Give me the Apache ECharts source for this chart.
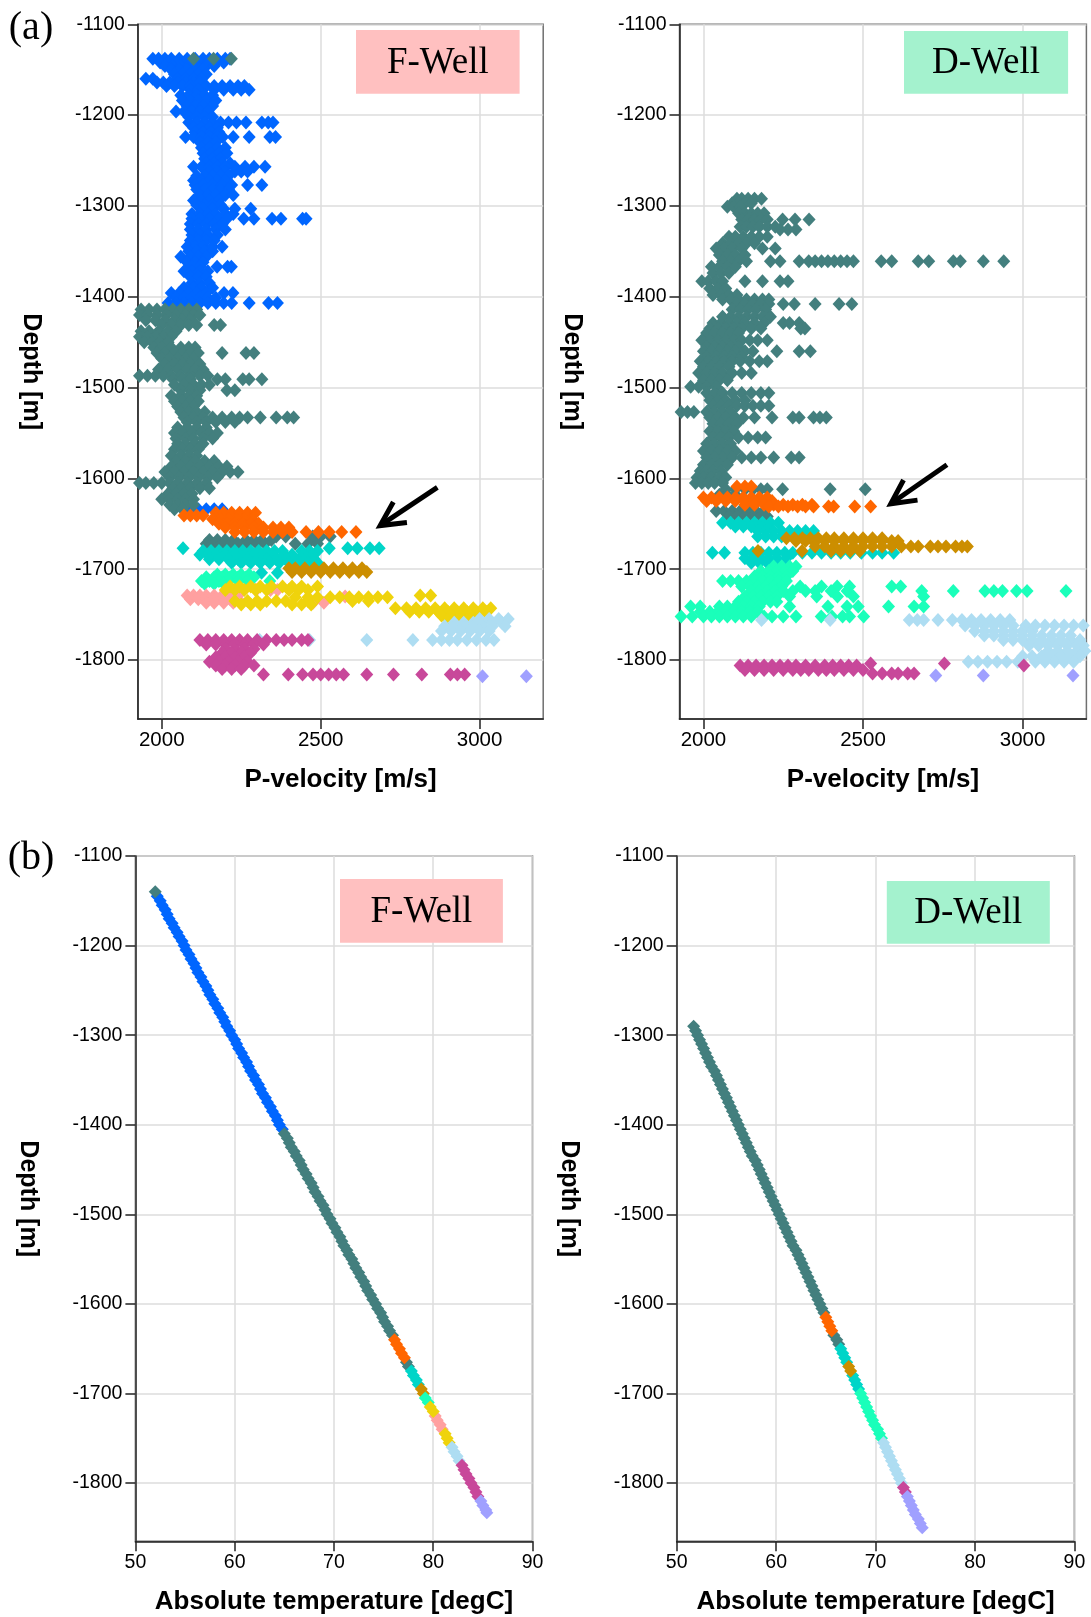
<!DOCTYPE html>
<html><head><meta charset="utf-8">
<script src="https://cdn.jsdelivr.net/npm/echarts@6/dist/echarts.min.js"></script>
<style>html,body{margin:0;padding:0;background:#fff}#c{width:1091px;height:1617px}</style>
</head><body><div id="c"></div>
<script>
// ---------- tick labels ----------
const depthTicks = [-1800, -1700, -1600, -1500, -1400, -1300, -1200, -1100];
const velTicks = [2000, 2500, 3000];
const tempTicks = [50, 60, 70, 80, 90];

// ---------- zone colours ----------
const zoneKeys = ['blue','teal','orange','cyan','gold','green','salmon','yellow','lightblue','magenta','lavender'];
const zoneColors = ['#0066FF','#437F7E','#FF6600','#00D5C8','#CC8E00','#1AFFBA','#FFA0A0','#EFD30C','#AEDDF2','#C8489A','#A0A0FF'];

// ---------- (a) F-Well: rows of [depth, [P-velocities]] ----------
const fVelBlue = [
 [-1138,[1972,1990,2010,2030,2055,2080,2105,2130,2150,2175,2200,2215]],
 [-1142,[1995,2020,2045,2070,2095,2120,2145,2170,2195]],
 [-1146,[2010,2035,2060,2085,2110,2140,2165]],
 [-1150,[2030,2055,2080,2105,2130]],
 [-1155,[2040,2065,2090,2115,2140]],
 [-1160,[1950,1972,2050,2075,2100,2125]],
 [-1164,[1985,2005,2025,2050,2075,2100,2120]],
 [-1168,[2015,2040,2065,2090,2140,2165,2190,2215,2240,2260]],
 [-1172,[2090,2115,2165,2195,2225,2250,2275]],
 [-1178,[2060,2085,2110,2135,2160]],
 [-1184,[2065,2090,2115,2140,2170]],
 [-1190,[2080,2105,2130,2160]],
 [-1196,[2045,2070,2095,2120,2145]],
 [-1202,[2085,2110,2135,2160]],
 [-1208,[2085,2110,2135,2160,2185,2210,2235,2265,2315,2335,2350]],
 [-1214,[2100,2125,2150,2175]],
 [-1219,[2105,2130,2155,2180]],
 [-1224,[2075,2100,2125,2150,2175,2192,2225,2275,2340,2358]],
 [-1230,[2120,2145,2170]],
 [-1236,[2125,2150,2175,2200]],
 [-1242,[2130,2155,2180,2205]],
 [-1248,[2135,2160,2185]],
 [-1253,[2140,2165,2190,2215]],
 [-1257,[2100,2125,2150,2175,2200,2230,2262,2290,2325]],
 [-1262,[2150,2175,2200,2230,2250,2270]],
 [-1267,[2110,2135,2160,2185,2210]],
 [-1272,[2100,2125,2150,2175,2200]],
 [-1277,[2105,2130,2160,2190,2220,2270,2315]],
 [-1282,[2110,2135,2160,2185,2210]],
 [-1288,[2120,2145,2170,2200,2225]],
 [-1294,[2100,2125,2150,2180]],
 [-1299,[2110,2135,2160,2185]],
 [-1303,[2130,2160,2195,2230,2280]],
 [-1309,[2095,2120,2145,2170,2200,2225]],
 [-1314,[2095,2120,2150,2180,2205,2258,2290,2347,2375,2443,2454]],
 [-1320,[2090,2115,2140,2165,2190]],
 [-1326,[2090,2115,2140,2170,2200]],
 [-1332,[2095,2120,2145,2175]],
 [-1338,[2090,2115,2140,2165]],
 [-1345,[2080,2105,2130,2160,2190]],
 [-1350,[2085,2110,2135,2160]],
 [-1356,[2060,2090,2115,2140]],
 [-1362,[2080,2105,2130]],
 [-1367,[2095,2120,2174,2207,2219]],
 [-1372,[2070,2095,2120,2145]],
 [-1378,[2090,2115,2140]],
 [-1385,[2095,2120,2150]],
 [-1390,[2070,2100,2125,2160]],
 [-1396,[2030,2055,2085,2110,2140,2196,2224]],
 [-1401,[2045,2070,2095,2120,2145,2170]],
 [-1407,[2020,2045,2070,2095,2120,2145,2170,2195,2220,2275,2336,2364]],
 [-1634,[2090,2115,2140,2165,2190]]
];
const fVelTeal = [
 [-1138,[2100,2163,2219]],
 [-1414,[1935,1960,1985,2010,2035,2060,2085,2110]],
 [-1420,[1930,1955,1985,2015,2045,2075,2100,2120]],
 [-1426,[1950,1980,2010,2040,2065,2090]],
 [-1431,[2000,2030,2060,2085,2110,2165,2185]],
 [-1438,[1935,1960,1990,2020,2045]],
 [-1444,[1930,1955,1980,2005,2030]],
 [-1450,[1945,1970,1995,2020]],
 [-1456,[1975,2000,2030,2060,2085,2105]],
 [-1462,[1985,2010,2040,2065,2090,2115,2190,2265,2290]],
 [-1468,[2000,2025,2050,2075,2100]],
 [-1474,[2010,2040,2065,2090,2120]],
 [-1480,[1990,2020,2050,2080,2105,2130]],
 [-1487,[1930,1955,1980,2005,2030,2060,2090,2120,2145]],
 [-1491,[2035,2065,2090,2175,2200,2255,2275,2315]],
 [-1497,[2040,2070,2100,2125,2150]],
 [-1503,[2060,2090,2120,2205,2230]],
 [-1509,[2030,2060,2085,2110]],
 [-1515,[2040,2065,2090,2115]],
 [-1521,[2050,2075,2100]],
 [-1527,[2060,2085,2110,2135]],
 [-1533,[2070,2100,2130,2160,2190,2220,2245,2270,2310,2360,2395,2415]],
 [-1538,[2080,2110,2140,2170,2200,2230]],
 [-1544,[2050,2080,2110,2140]],
 [-1550,[2040,2065,2095,2125,2150,2175]],
 [-1556,[2045,2075,2100,2130,2160]],
 [-1562,[2050,2075,2105,2130]],
 [-1568,[2040,2065,2090,2115]],
 [-1575,[2030,2060,2085,2110]],
 [-1581,[2045,2075,2105,2135,2165]],
 [-1587,[2030,2060,2090,2120,2150,2180,2205]],
 [-1593,[2010,2040,2070,2100,2130,2160,2190,2215,2240]],
 [-1599,[2025,2055,2085,2115,2145,2175]],
 [-1605,[1930,1950,1975,2000,2025,2050,2080,2110,2140]],
 [-1611,[2035,2060,2090,2120,2150]],
 [-1617,[2020,2045,2070,2095]],
 [-1623,[2000,2025,2050,2075,2100]],
 [-1629,[2025,2050,2075,2100]],
 [-1634,[2040,2065]],
 [-1664,[2360,2390,2475,2500,2530]],
 [-1668,[2150,2175,2200,2225,2265,2290,2315,2345]],
 [-1672,[2140,2165,2195,2240,2270,2300,2325,2420,2460,2490]],
 [-1675,[2150,2180,2210]]
];
const fVelOrange = [
 [-1638,[2170,2195,2220,2245,2270,2295]],
 [-1641,[2070,2090,2110,2130]],
 [-1645,[2160,2185,2210,2235,2260,2285]],
 [-1650,[2180,2205,2230,2255,2280,2305]],
 [-1654,[2200,2230,2260,2290,2320,2350,2375,2400]],
 [-1659,[2230,2260,2290,2320,2350,2380,2410,2454,2493,2527,2566,2611]]
];
const fVelCyan = [
 [-1677,[2067,2527,2585,2615,2655,2684]],
 [-1680,[2130,2155,2180,2205,2230,2255,2280,2305,2330,2355,2380,2440,2465,2490]],
 [-1684,[2120,2145,2170,2200,2230,2260,2290,2320,2350,2385,2410,2445,2475]],
 [-1689,[2150,2180,2210,2240,2270,2300,2330,2360,2390,2420,2450,2480]],
 [-1693,[2220,2250,2280,2310,2340,2370,2400,2430,2460,2490]],
 [-1704,[2314,2364]]
];
const fVelGold = [
 [-1699,[2400,2420,2450,2480,2510,2540,2570,2600,2630]],
 [-1703,[2410,2440,2470,2500,2530,2560,2590,2620,2645]]
];
const fVelGreen = [
 [-1706,[2175,2200,2225,2250,2275]],
 [-1709,[2140,2165,2190,2215,2240,2265,2290]],
 [-1713,[2125,2150,2180,2210,2240,2270,2340]],
 [-1716,[2135,2165,2195]]
];
const fVelSalmon = [
 [-1723,[2297,2342,2364]],
 [-1729,[2080,2100,2120,2140,2165,2190,2215,2240]],
 [-1730,[2577]],
 [-1733,[2090,2115,2140,2165,2190,2215,2240]],
 [-1737,[2140,2165,2195,2225,2476,2510]]
];
const fVelYellow = [
 [-1719,[2215,2245,2280,2310,2345,2380,2410,2440,2490]],
 [-1723,[2200,2230,2260,2295,2330,2400,2430,2460]],
 [-1729,[2813,2846]],
 [-1731,[2420,2460,2490,2530,2560,2590,2620,2650,2680,2710]],
 [-1735,[2230,2270,2300,2330,2360,2390,2460,2600,2650]],
 [-1739,[2250,2280,2310,2410,2440,2470]],
 [-1743,[2735,2770,2800,2830,2860,2890,2920,2950,2980,3010,3035]],
 [-1747,[2780,2810,2840,2870,2900,2930,2960,2990,3020]],
 [-1751,[2880,2910,2940,2970,3000]],
 [-1756,[2900,2930,2960,2985]]
];
const fVelLightblue = [
 [-1755,[3000,3030,3060,3090]],
 [-1759,[2920,2950,2980,3010,3040,3070]],
 [-1763,[2890,2920,2950,2980,3010,3040,3080]],
 [-1768,[2880,2910,2940,2970,3000,3030]],
 [-1778,[2308,2465,2645,2790,2852,2880,2905,2930,2960,2990,3020,3045]]
];
const fVelMagenta = [
 [-1778,[2120,2145,2170,2195,2220,2245,2270,2300,2330,2360,2385,2410,2440,2460]],
 [-1783,[2140,2170,2200,2230,2260,2290,2320]],
 [-1788,[2200,2230,2260,2290]],
 [-1792,[2190,2220,2250,2280]],
 [-1797,[2170,2200,2230,2260]],
 [-1802,[2150,2180,2210,2240,2270]],
 [-1806,[2170,2200,2230,2260,2290]],
 [-1810,[2190,2220,2250]],
 [-1816,[2320,2398,2443,2476,2500,2525,2549,2572,2645,2729,2818,2908,2930,2953]]
];
const fVelLavender = [
 [-1818,[3009,3147]]
];

// ---------- (a) D-Well: rows of [depth, [P-velocities]] ----------
const dVelTeal = [
 [-1292,[2105,2120,2140,2160,2182]],
 [-1297,[2090,2110,2130,2150]],
 [-1301,[2075,2095,2115]],
 [-1308,[2110,2130,2150,2170,2190]],
 [-1315,[2120,2140,2160,2180,2200,2248,2287,2331]],
 [-1323,[2115,2135,2155,2175,2200,2225]],
 [-1326,[2240,2265,2290]],
 [-1334,[2080,2100,2125,2150,2175,2200]],
 [-1341,[2060,2085,2110,2135,2160]],
 [-1347,[2040,2065,2090,2120,2185,2225]],
 [-1354,[2050,2075,2100,2130]],
 [-1361,[2060,2085,2110,2135,2210,2240,2300,2330,2350,2370,2390,2410,2430,2450,2470,2557,2590,2673,2706,2783,2805,2877,2941]],
 [-1367,[2025,2050,2075,2100]],
 [-1374,[2030,2055,2080]],
 [-1383,[1995,2015,2040,2060,2130,2185,2240,2265]],
 [-1391,[2020,2045,2070]],
 [-1398,[2030,2055,2080,2105]],
 [-1403,[2060,2085,2110,2135,2160,2185,2205]],
 [-1408,[2105,2130,2155,2180,2205,2250,2285,2350,2425,2465]],
 [-1414,[2090,2115,2140,2165,2195]],
 [-1422,[2060,2085,2110,2135,2160,2185,2210]],
 [-1429,[2030,2055,2080,2105,2130,2160,2190,2250,2270,2300]],
 [-1435,[2020,2045,2070,2095,2120,2150,2180,2305,2318]],
 [-1440,[2010,2035,2060,2085,2110]],
 [-1448,[1995,2020,2045,2070,2095,2120,2145,2170,2200]],
 [-1455,[2010,2035,2060,2085,2110]],
 [-1460,[2000,2025,2050,2075,2100,2130,2155,2230,2300,2335]],
 [-1466,[2010,2040,2065,2090,2120]],
 [-1471,[1990,2015,2040,2065,2090,2115,2145,2175,2200]],
 [-1477,[2000,2025,2050,2080]],
 [-1484,[1985,2010,2035,2060,2090,2120,2150]],
 [-1492,[2000,2025,2050,2075]],
 [-1499,[1960,1985,2010,2040]],
 [-1506,[2010,2035,2060,2090,2120,2150,2180,2205]],
 [-1514,[2020,2045,2070,2100,2130]],
 [-1520,[2030,2055,2080,2105,2130,2155,2180,2205]],
 [-1527,[1930,1950,1970,2010,2035,2060,2085]],
 [-1533,[2020,2045,2070,2100,2125,2160,2215,2280,2300,2345,2365,2385]],
 [-1540,[2030,2055,2080,2105]],
 [-1548,[2020,2045,2070,2095]],
 [-1555,[2030,2055,2080,2110,2140,2170,2195]],
 [-1562,[2010,2035,2060,2085]],
 [-1570,[2000,2025,2050,2075,2100]],
 [-1577,[2010,2035,2060,2090,2120,2150,2180,2220,2275,2300]],
 [-1585,[2000,2025,2050,2075]],
 [-1592,[1990,2010,2030,2055]],
 [-1599,[1980,2000,2025,2050,2070]],
 [-1605,[1975,1995,2015,2035,2060]],
 [-1612,[2070,2100,2130,2155,2180,2200,2248,2397,2507]],
 [-1618,[2050,2075,2100]],
 [-1636,[2040,2065,2090,2115,2140,2165,2190]],
 [-1642,[2080,2105,2130,2155,2180,2200]]
];
const dVelOrange = [
 [-1609,[2105,2130,2150]],
 [-1621,[2000,2025,2050,2075,2100,2125,2150,2175,2200]],
 [-1625,[2010,2040,2070,2100,2130,2160,2190,2215]],
 [-1629,[2130,2160,2190,2220,2250,2280,2310,2340]],
 [-1631,[2205,2235,2265,2295,2320,2345,2392,2408,2474,2524]]
];
const dVelCyan = [
 [-1649,[2060,2085,2110,2135,2160,2185,2210,2235]],
 [-1653,[2100,2125,2150,2175,2200]],
 [-1658,[2170,2195,2220,2245,2270,2295,2320,2345]],
 [-1664,[2170,2195,2220,2245]],
 [-1682,[2028,2066,2130,2155,2180,2205,2230,2255,2280,2310,2340,2370,2400,2430,2460,2495,2530,2560,2596]],
 [-1688,[2130,2155,2180,2205,2230,2260]],
 [-1693,[2150,2175,2200,2225]]
];
const dVelGold = [
 [-1666,[2260,2285,2310,2335,2360,2385,2410,2440,2470,2500,2530,2560]],
 [-1669,[2290,2320,2350,2380,2410,2440,2470,2500,2530,2560,2590,2610]],
 [-1675,[2350,2380,2410,2440,2470,2500,2530,2560,2590,2620,2650,2673,2711,2735,2760,2790,2810,2827]],
 [-1680,[2171,2309,2400,2430,2460,2490]]
];
const dVelGreen = [
 [-1697,[2220,2245,2270,2290]],
 [-1702,[2180,2205,2230,2255,2280]],
 [-1708,[2160,2185,2210,2235,2260]],
 [-1713,[2060,2085,2110,2135,2160,2185,2210,2235,2260]],
 [-1719,[2120,2145,2170,2195,2220,2245,2303,2370,2419,2458,2590,2618]],
 [-1724,[2150,2175,2200,2225,2250,2280,2320,2350,2400,2450,2684,2783,2882,2910,2937,2981,3014,3136]],
 [-1730,[2130,2155,2180,2205,2230,2270,2355,2420,2470,2690]],
 [-1736,[2110,2135,2160,2185,2210,2230]],
 [-1741,[1960,1990,2050,2075,2100,2125,2150,2175,2270,2390,2450,2485,2580,2660,2690]],
 [-1747,[1990,2020,2045,2070,2095,2120,2145,2170]],
 [-1752,[1930,1965,2000,2025,2050,2075,2100,2125,2150,2190,2215,2250,2290,2369,2403,2436,2458,2502]]
];
const dVelLightblue = [
 [-1756,[2182,2397,2645,2670,2690,2735,2780,2810,2840,2870,2900,2930,2960]],
 [-1762,[2820,2850,2880,2910,2940,2970,3010,3040,3070,3100,3130,3160,3190]],
 [-1768,[2850,2880,2910,2940,2970,3000,3030]],
 [-1773,[2880,2910,2940,2970,3000,3030,3060,3090,3120,3150]],
 [-1778,[2940,2970,3000,3030,3060,3090,3120,3150,3180]],
 [-1784,[3020,3050,3080,3110,3140,3170,3190]],
 [-1790,[3080,3110,3140,3170,3195]],
 [-1796,[3000,3030,3060,3090,3120,3150,3180]],
 [-1802,[2830,2860,2890,2920,2950,2985,3040,3070,3100,3130,3160]]
];
const dVelMagenta = [
 [-1804,[2524,2755]],
 [-1806,[2115,2140,2165,2190,2215,2240,2265,2290,2320,2350,2380,2405,2430,2455,2480,3004]],
 [-1811,[2130,2160,2190,2220,2250,2280,2305,2330,2360,2385,2410,2440,2470,2500]],
 [-1815,[2530,2560,2590,2610,2640,2660]]
];
const dVelLavender = [
 [-1817,[2728,2877,3158]]
];

// ---------- (b) temperature profiles: [depth, temperature] ----------
const fTempProfile = [
 [-1140,52.0],[-1145,52.2],[-1150,52.5],[-1155,52.7],[-1160,53.0],[-1165,53.2],[-1170,53.4],[-1175,53.7],[-1180,53.9],[-1185,54.2],
 [-1190,54.4],[-1195,54.7],[-1200,54.9],[-1205,55.1],[-1210,55.4],[-1215,55.6],[-1220,55.9],[-1225,56.1],[-1230,56.3],[-1235,56.6],
 [-1240,56.8],[-1245,57.1],[-1250,57.3],[-1255,57.5],[-1260,57.8],[-1265,58.0],[-1270,58.3],[-1275,58.5],[-1280,58.8],[-1285,59.0],
 [-1290,59.2],[-1295,59.5],[-1300,59.7],[-1305,60.0],[-1310,60.2],[-1315,60.4],[-1320,60.7],[-1325,60.9],[-1330,61.2],[-1335,61.4],
 [-1340,61.6],[-1345,61.9],[-1350,62.1],[-1355,62.4],[-1360,62.6],[-1365,62.8],[-1370,63.1],[-1375,63.3],[-1380,63.6],[-1385,63.8],
 [-1390,64.1],[-1395,64.3],[-1400,64.5],[-1405,64.8],[-1410,65.0],[-1415,65.3],[-1420,65.5],[-1425,65.7],[-1430,66.0],[-1435,66.2],
 [-1440,66.5],[-1445,66.7],[-1450,66.9],[-1455,67.2],[-1460,67.4],[-1465,67.7],[-1470,67.9],[-1475,68.1],[-1480,68.4],[-1485,68.6],
 [-1490,68.9],[-1495,69.1],[-1500,69.3],[-1505,69.6],[-1510,69.8],[-1515,70.1],[-1520,70.3],[-1525,70.6],[-1530,70.8],[-1535,71.0],
 [-1540,71.3],[-1545,71.5],[-1550,71.8],[-1555,72.0],[-1560,72.2],[-1565,72.5],[-1570,72.7],[-1575,73.0],[-1580,73.2],[-1585,73.4],
 [-1590,73.7],[-1595,73.9],[-1600,74.2],[-1605,74.4],[-1610,74.7],[-1615,74.9],[-1620,75.1],[-1625,75.4],[-1630,75.6],[-1635,75.9],
 [-1640,76.1],[-1645,76.3],[-1650,76.6],[-1655,76.8],[-1660,77.1],[-1665,77.3],[-1670,77.5],[-1675,77.8],[-1680,78.0],[-1685,78.3],
 [-1690,78.5],[-1695,78.8],[-1700,79.0],[-1705,79.2],[-1710,79.5],[-1715,79.7],[-1720,80.0],[-1725,80.2],[-1730,80.4],[-1735,80.7],
 [-1740,80.9],[-1745,81.2],[-1750,81.4],[-1755,81.6],[-1760,81.9],[-1765,82.1],[-1770,82.4],[-1775,82.6],[-1780,82.9],[-1785,83.1],
 [-1790,83.3],[-1795,83.6],[-1800,83.8],[-1805,84.1],[-1810,84.3],[-1815,84.5],[-1820,84.8],[-1825,85.0],[-1830,85.3],[-1833,85.4]
];
// zone that starts at each depth (going down)
const fTempZones = [[-1140,'teal'],[-1145,'blue'],[-1410,'teal'],[-1640,'orange'],[-1665,'teal'],[-1672,'cyan'],[-1695,'gold'],
 [-1705,'green'],[-1715,'yellow'],[-1725,'salmon'],[-1745,'yellow'],[-1757,'lightblue'],[-1780,'magenta'],[-1817,'lavender']];

const dTempProfile = [
 [-1290,51.7],[-1295,51.9],[-1300,52.1],[-1305,52.3],[-1310,52.5],[-1315,52.7],[-1320,52.9],[-1325,53.1],[-1330,53.3],[-1335,53.5],
 [-1340,53.8],[-1345,54.0],[-1350,54.2],[-1355,54.4],[-1360,54.6],[-1365,54.8],[-1370,55.0],[-1375,55.2],[-1380,55.4],[-1385,55.6],
 [-1390,55.8],[-1395,56.0],[-1400,56.2],[-1405,56.4],[-1410,56.6],[-1415,56.8],[-1420,57.0],[-1425,57.2],[-1430,57.4],[-1435,57.6],
 [-1440,57.9],[-1445,58.1],[-1450,58.3],[-1455,58.5],[-1460,58.7],[-1465,58.9],[-1470,59.1],[-1475,59.3],[-1480,59.5],[-1485,59.7],
 [-1490,59.9],[-1495,60.1],[-1500,60.3],[-1505,60.5],[-1510,60.7],[-1515,60.9],[-1520,61.1],[-1525,61.3],[-1530,61.5],[-1535,61.7],
 [-1540,62.0],[-1545,62.2],[-1550,62.4],[-1555,62.6],[-1560,62.8],[-1565,63.0],[-1570,63.2],[-1575,63.4],[-1580,63.6],[-1585,63.8],
 [-1590,64.0],[-1595,64.2],[-1600,64.4],[-1605,64.6],[-1610,64.8],[-1615,65.0],[-1620,65.2],[-1625,65.4],[-1630,65.6],[-1635,65.8],
 [-1640,66.1],[-1645,66.3],[-1650,66.5],[-1655,66.7],[-1660,66.9],[-1665,67.1],[-1670,67.3],[-1675,67.5],[-1680,67.7],[-1685,67.9],
 [-1690,68.1],[-1695,68.3],[-1700,68.5],[-1705,68.7],[-1710,68.9],[-1715,69.1],[-1720,69.3],[-1725,69.5],[-1730,69.7],[-1735,69.9],
 [-1740,70.2],[-1745,70.4],[-1750,70.6],[-1755,70.8],[-1760,71.0],[-1765,71.2],[-1770,71.4],[-1775,71.6],[-1780,71.8],[-1785,72.0],
 [-1790,72.2],[-1795,72.4],[-1800,72.6],[-1805,72.8],[-1810,73.0],[-1815,73.2],[-1820,73.4],[-1825,73.6],[-1830,73.8],[-1835,74.0],
 [-1840,74.3],[-1845,74.5],[-1850,74.7]
];
const dTempZones = [[-1290,'teal'],[-1615,'orange'],[-1635,'teal'],[-1648,'cyan'],[-1667,'gold'],[-1678,'cyan'],[-1697,'green'],
 [-1751,'lightblue'],[-1801,'magenta'],[-1813,'lavender']];

// arrows (data coordinates of tail and tip)
const arrowF = [[2867,-1610],[2687,-1652]];
const arrowD = [[2763,-1585],[2587,-1628]];

// ---------- build ----------
const SANS = "'Liberation Sans', Arial, sans-serif";
const SERIF = "'Liberation Serif', 'Times New Roman', serif";

function rowsToPoints(rows){ const out=[]; rows.forEach(r=>r[1].forEach(v=>out.push([v,r[0]]))); return out; }
function zoneOf(d, zones){ let z=zones[0][1]; zones.forEach(([s,k])=>{ if(d<=s) z=k; }); return z; }

const grids = [
 {left:137.9, top:24.3, width:405.3, height:694.7},
 {left:679.5, top:24.3, width:406.9, height:694.7},
 {left:135.4, top:856, width:397.1, height:685.3},
 {left:676.7, top:856, width:397.7, height:685.3}
].map(g=>Object.assign({show:true, borderColor:'#707070', borderWidth:1.5, backgroundColor:'transparent', containLabel:false, outerBoundsMode:'none'}, g));

function axisCommon(){ return {
  axisLine:{show:true, onZero:false, lineStyle:{color:'#222', width:1.5}},
  splitLine:{show:true, lineStyle:{color:'#dcdcdc', width:1.5}},
  nameMoveOverlap:false
};}
function xAxisVel(gi){ return Object.assign(axisCommon(), {type:'value', gridIndex:gi, min:1925, max:3200,
  name:'P-velocity [m/s]', nameLocation:'middle', nameGap:48,
  nameTextStyle:{fontFamily:SANS, fontSize:26, fontWeight:'bold', color:'#000'},
  axisTick:{show:true, length:10, customValues:velTicks, lineStyle:{color:'#222', width:1.5}},
  axisLabel:{customValues:velTicks, formatter:v=>String(v), margin:11, fontFamily:SANS, fontSize:20.5, color:'#000'}});}
function xAxisTemp(gi){ return Object.assign(axisCommon(), {type:'value', gridIndex:gi, min:50, max:90, interval:10,
  name:'Absolute temperature [degC]', nameLocation:'middle', nameGap:48,
  nameTextStyle:{fontFamily:SANS, fontSize:26, fontWeight:'bold', color:'#000'},
  axisTick:{show:true, length:10, lineStyle:{color:'#222', width:1.5}},
  axisLabel:{formatter:v=>String(v), margin:11, fontFamily:SANS, fontSize:19.5, color:'#000', showMinLabel:true, showMaxLabel:true}});}
function yAxisDepth(gi){ return Object.assign(axisCommon(), {type:'value', gridIndex:gi, min:-1865, max:-1100,
  name:'Depth [m]', nameLocation:'middle', nameRotate:-90, nameGap:95,
  nameTextStyle:{fontFamily:SANS, fontSize:25, fontWeight:'bold', color:'#000'},
  axisTick:{show:true, length:10, customValues:depthTicks, lineStyle:{color:'#222', width:1.5}},
  axisLabel:{customValues:depthTicks, formatter:v=>String(v), margin:13, fontFamily:SANS, fontSize:19.5, color:'#000'}});}

const series = [];
function addScatter(gi, key, data, size){
  if(!data.length) return;
  series.push({type:'scatter', xAxisIndex:gi, yAxisIndex:gi, data:data, symbol:'diamond', symbolSize:size,
    itemStyle:{color:zoneColors[zoneKeys.indexOf(key)], opacity:1}, silent:true, animation:false, emphasis:{disabled:true}});
}
const fVel = {blue:fVelBlue, teal:fVelTeal, orange:fVelOrange, cyan:fVelCyan, gold:fVelGold, green:fVelGreen,
  salmon:fVelSalmon, yellow:fVelYellow, lightblue:fVelLightblue, magenta:fVelMagenta, lavender:fVelLavender};
const dVel = {teal:dVelTeal, orange:dVelOrange, cyan:dVelCyan, gold:dVelGold, green:dVelGreen,
  lightblue:dVelLightblue, magenta:dVelMagenta, lavender:dVelLavender};
zoneKeys.forEach(k=>{ if(fVel[k]) addScatter(0,k,rowsToPoints(fVel[k]),[13,14]); });
zoneKeys.forEach(k=>{ if(dVel[k]) addScatter(1,k,rowsToPoints(dVel[k]),[13,14]); });
function profileSeries(gi, profile, zones){
  zoneKeys.forEach(k=>{
    const pts = profile.filter(p=>zoneOf(p[0],zones)===k).map(p=>[p[1],p[0]]);
    addScatter(gi,k,pts,[13,13]);
  });
}
profileSeries(2, fTempProfile, fTempZones);
profileSeries(3, dTempProfile, dTempZones);

const chart = echarts.init(document.getElementById('c'), null, {renderer:'canvas', width:1091, height:1617});
const option = {
  animation:false, backgroundColor:'#fff',
  grid:grids,
  xAxis:[xAxisVel(0), xAxisVel(1), xAxisTemp(2), xAxisTemp(3)],
  yAxis:[yAxisDepth(0), yAxisDepth(1), yAxisDepth(2), yAxisDepth(3)],
  series:series
};
chart.setOption(option);

// ---------- annotations ----------
function box(x,y,w,h,fill,text){
  return [
    {type:'rect', shape:{x:x,y:y,width:w,height:h}, style:{fill:fill}, z:100, silent:true},
    {type:'text', x:x+w/2, y:y+h/2+1, style:{text:text, font:"37px "+SERIF, fill:'#000', textAlign:'center', textVerticalAlign:'middle'}, z:101, silent:true}
  ];
}
function arrow(gi, a){
  const t = chart.convertToPixel({gridIndex:gi}, a[0]);
  const p = chart.convertToPixel({gridIndex:gi}, a[1]);
  const dx=t[0]-p[0], dy=t[1]-p[1], L=Math.hypot(dx,dy), ux=dx/L, uy=dy/L;
  const ang=27*Math.PI/180, len=27;
  const r=(s)=>[p[0]+len*(ux*Math.cos(s*ang)-uy*Math.sin(s*ang)), p[1]+len*(ux*Math.sin(s*ang)+uy*Math.cos(s*ang))];
  return [
    {type:'polyline', shape:{points:[t,[p[0]+ux*3,p[1]+uy*3]]}, style:{stroke:'#000', lineWidth:5, fill:null}, z:100, silent:true},
    {type:'polyline', shape:{points:[r(1),p,r(-1)]}, style:{stroke:'#000', lineWidth:5, fill:null, lineJoin:'miter'}, z:100, silent:true}
  ];
}
const graphics = [].concat(
  [{type:'text', x:31, y:28, style:{text:'(a)', font:"40px "+SERIF, fill:'#000', textAlign:'center', textVerticalAlign:'middle'}, z:100},
   {type:'text', x:31, y:858, style:{text:'(b)', font:"40px "+SERIF, fill:'#000', textAlign:'center', textVerticalAlign:'middle'}, z:100}],
  box(356,30,163.6,63.7,'#FFC0C0','F-Well'),
  box(904,31,164.1,62.7,'#A4F2CE','D-Well'),
  box(340,879,162.9,63.7,'#FFC0C0','F-Well'),
  box(886.8,881,163,62.7,'#A4F2CE','D-Well'),
  arrow(0, arrowF),
  arrow(1, arrowD)
);
chart.setOption({graphic:graphics});
</script></body></html>
